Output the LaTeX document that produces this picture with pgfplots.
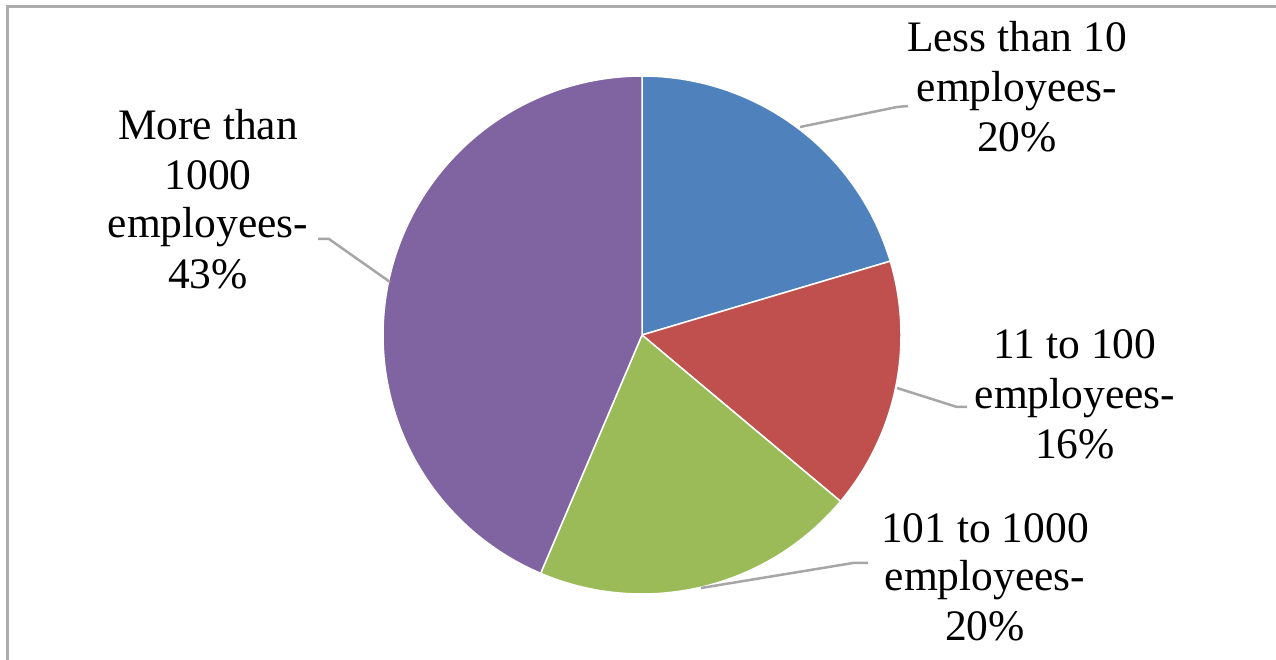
\documentclass[border=0pt]{standalone}
\usepackage{pgfplots}
\pgfplotsset{compat=1.18}
\usepackage{fontspec}
\setmainfont{Liberation Serif}
\definecolor{cblue}{HTML}{4F81BD}
\definecolor{cred}{HTML}{C0504D}
\definecolor{cgreen}{HTML}{9BBB59}
\definecolor{cpurple}{HTML}{8064A2}
\definecolor{clead}{HTML}{A6A6A6}
\definecolor{cframe}{HTML}{ADADAD}
% slice values (percent)
\def\vA{20.4}
\def\vB{15.7}
\def\vC{20.3}
\def\vD{43.6}
\begin{document}
\begin{tikzpicture}[
  lbl/.style={anchor=base,font=\fontsize{43.5bp}{50bp}\selectfont,inner sep=0pt},
  lead/.style={draw=clead,line width=2.5bp}]
\pgfmathsetmacro\aA{90}
\pgfmathsetmacro\aB{\aA-3.6*\vA}
\pgfmathsetmacro\aC{\aB-3.6*\vB}
\pgfmathsetmacro\aD{\aC-3.6*\vC}
\pgfmathsetmacro\aE{\aD-3.6*\vD}
\begin{axis}[width=1276bp,height=660bp,scale only axis,
  xmin=0,xmax=1276,ymin=0,ymax=660,hide axis,clip=false]
\addplot[fill=cblue,draw=white,line width=1.5bp,domain=\aB:\aA,samples=90] ({642+259*cos(x)},{325+259*sin(x)}) -- (axis cs:642,325) -- cycle;
\addplot[fill=cred,draw=white,line width=1.5bp,domain=\aC:\aB,samples=90] ({642+259*cos(x)},{325+259*sin(x)}) -- (axis cs:642,325) -- cycle;
\addplot[fill=cgreen,draw=white,line width=1.5bp,domain=\aD:\aC,samples=90] ({642+259*cos(x)},{325+259*sin(x)}) -- (axis cs:642,325) -- cycle;
\addplot[fill=cpurple,draw=white,line width=1.5bp,domain=\aE:\aD,samples=150] ({642+259*cos(x)},{325+259*sin(x)}) -- (axis cs:642,325) -- cycle;
% leader lines
\draw[lead] (axis cs:800,533) -- (axis cs:897,553) -- (axis cs:908,554);
\draw[lead] (axis cs:897,272) -- (axis cs:957,253) -- (axis cs:967,253);
\draw[lead] (axis cs:701,72) -- (axis cs:853,97) -- (axis cs:868,97);
\draw[lead] (axis cs:390,378) -- (axis cs:329,421) -- (axis cs:318,421);
% labels
\node[lbl] at (axis cs:1017,608) {Less than 10};
\node[lbl] at (axis cs:1017,558) {employees-};
\node[lbl] at (axis cs:1017,508) {20\%};
\node[lbl] at (axis cs:1075,302) {11 to 100};
\node[lbl] at (axis cs:1075,252) {employees-};
\node[lbl] at (axis cs:1075,202) {16\%};
\node[lbl] at (axis cs:985,118) {101 to 1000};
\node[lbl] at (axis cs:985,70) {employees-};
\node[lbl] at (axis cs:985,20) {20\%};
\node[lbl] at (axis cs:208,520) {More than};
\node[lbl] at (axis cs:208,470) {1000};
\node[lbl] at (axis cs:208,422) {employees-};
\node[lbl] at (axis cs:208,372) {43\%};
% frame
\draw[cframe,line width=2.5bp] (axis cs:7.5,0) -- (axis cs:7.5,653.5) -- (axis cs:1276,653.5);
\end{axis}
\pgfresetboundingbox
\path (0,0) rectangle (1276bp,660bp);
\end{tikzpicture}
\end{document}
